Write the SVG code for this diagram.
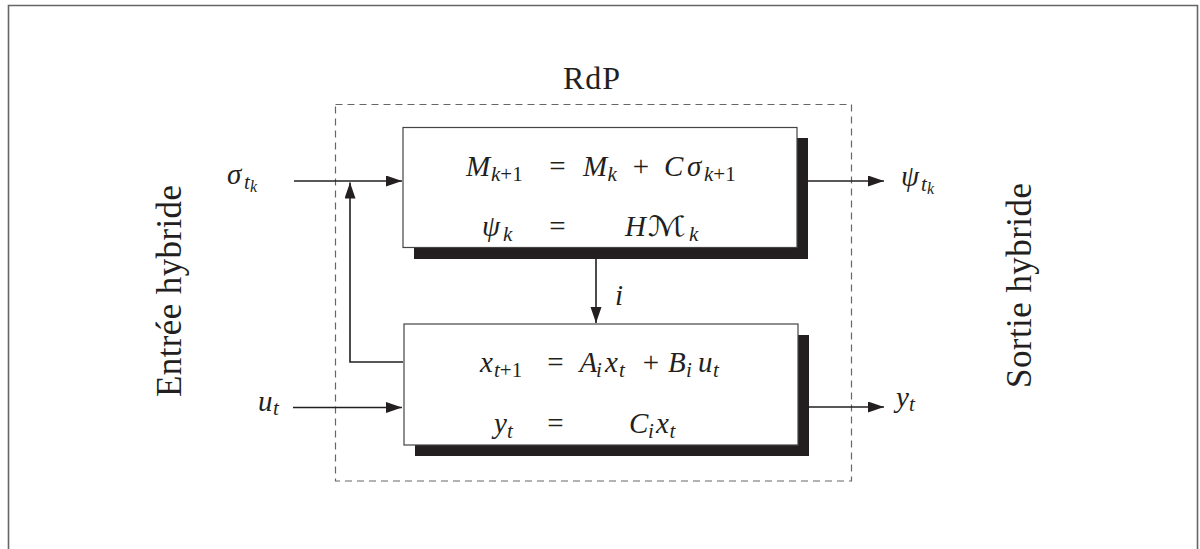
<svg xmlns="http://www.w3.org/2000/svg" width="1200" height="549" viewBox="0 0 1200 549" font-family="'Liberation Serif', 'Times New Roman', serif">
<style>
.frame{fill:none;stroke:#666;stroke-width:1.6}
.dash{fill:none;stroke:#666;stroke-width:1.2;stroke-dasharray:7,5}
.box{fill:#fff;stroke:#444;stroke-width:1.2}
.shadow{fill:#231f20;stroke:none}
.wire{fill:none;stroke:#231f20;stroke-width:1.6}
text{fill:#231f20}
.mi{font-style:italic;font-size:29px}
.mr{font-size:29px}
.si{font-style:italic;font-size:21px}
.sr{font-size:21px}
.ssi{font-style:italic;font-size:16px}
.lbl{font-size:35px}
.cal{font-style:italic;font-size:28px}
</style>
<defs>
<marker id="ah" markerUnits="userSpaceOnUse" markerWidth="17" markerHeight="12" refX="16" refY="5.5" orient="auto">
<path d="M0,0 L16,5.5 L0,11 z" fill="#231f20"/>
</marker>
</defs>
<path class="frame" d="M8.5,560 V5.5 H1197.5 V560"/>
<g id="rdp">
<rect class="dash" x="335.5" y="104.5" width="516" height="376.5"/>
<text x="563" y="89" font-size="32" textLength="57" lengthAdjust="spacing">RdP</text>
</g>
<g id="label-entree">
<text class="lbl" transform="translate(180.5,397) rotate(-90)" x="0" y="0" textLength="212" lengthAdjust="spacing">Entrée hybride</text>
</g>
<g id="label-sortie">
<text class="lbl" transform="translate(1030.5,388) rotate(-90)" x="0" y="0" textLength="205" lengthAdjust="spacing">Sortie hybride</text>
</g>
<g id="connectors">
<line class="wire" x1="294" y1="181" x2="402" y2="181" marker-end="url(#ah)"/>
<polyline class="wire" points="403,362 350,362 350,182.5" marker-end="url(#ah)"/>
<line class="wire" x1="808" y1="181" x2="884" y2="181" marker-end="url(#ah)"/>
<line class="wire" x1="596" y1="259" x2="596" y2="323" marker-end="url(#ah)"/>
<line class="wire" x1="293" y1="407.5" x2="402" y2="407.5" marker-end="url(#ah)"/>
<line class="wire" x1="809" y1="407" x2="884" y2="407" marker-end="url(#ah)"/>
</g>
<g id="in-sigma">
<text class="mi" x="227" y="184">σ</text>
<text class="si" x="244" y="189">t</text>
<text class="ssi" x="250" y="192">k</text>
</g>
<g id="in-u">
<text class="mi" x="258" y="411">u</text>
<text class="si" x="273" y="415">t</text>
</g>
<g id="out-psi">
<text class="mi" x="901" y="186">ψ</text>
<text class="si" x="921" y="191">t</text>
<text class="ssi" x="927" y="194">k</text>
</g>
<g id="out-y">
<text class="mi" x="896" y="407">y</text>
<text class="si" x="909" y="411">t</text>
</g>
<g id="label-i">
<text class="mi" x="615" y="305">i</text>
</g>
<g id="rdp-block">
<rect class="shadow" x="414" y="138" width="394" height="121"/>
<rect class="box" x="403" y="127.5" width="394" height="120"/>
<text class="mi" x="466" y="176">M</text>
<text class="sr" x="491" y="181"><tspan font-style="italic">k</tspan>+1</text>
<text class="mr" x="549.3" y="176">=</text>
<text class="mi" x="583" y="176">M</text>
<text class="si" x="607.5" y="181">k</text>
<text class="mr" x="632.8" y="176">+</text>
<text class="mi" x="664" y="176">C</text>
<text class="mi" x="687" y="176">σ</text>
<text class="sr" x="704" y="181"><tspan font-style="italic">k</tspan>+1</text>
<text class="mi" x="482" y="236">ψ</text>
<text class="si" x="503" y="241">k</text>
<text class="mr" x="549.3" y="236">=</text>
<text class="mi" x="625" y="236">H</text>
<text class="cal" x="648" y="236" font-family="'DejaVu Serif', 'DejaVu Sans', serif" textLength="38" lengthAdjust="spacingAndGlyphs">ℳ</text>
<text class="si" x="689" y="241">k</text>
</g>
<g id="system-block">
<rect class="shadow" x="415" y="335" width="394" height="121"/>
<rect class="box" x="404" y="324" width="394" height="121"/>
<text class="mi" x="480" y="372">x</text>
<text class="sr" x="494" y="377"><tspan font-style="italic">t</tspan>+1</text>
<text class="mr" x="547.3" y="372">=</text>
<text class="mi" x="579.5" y="372">A</text>
<text class="si" x="596" y="377">i</text>
<text class="mi" x="605" y="372">x</text>
<text class="si" x="619" y="377">t</text>
<text class="mr" x="642.8" y="372">+</text>
<text class="mi" x="668" y="372">B</text>
<text class="si" x="686" y="377">i</text>
<text class="mi" x="698" y="372">u</text>
<text class="si" x="713" y="377">t</text>
<text class="mi" x="494" y="433">y</text>
<text class="si" x="507" y="438">t</text>
<text class="mr" x="547.3" y="433">=</text>
<text class="mi" x="629" y="433">C</text>
<text class="si" x="648" y="438">i</text>
<text class="mi" x="656" y="433">x</text>
<text class="si" x="669.5" y="438">t</text>
</g>
</svg>
